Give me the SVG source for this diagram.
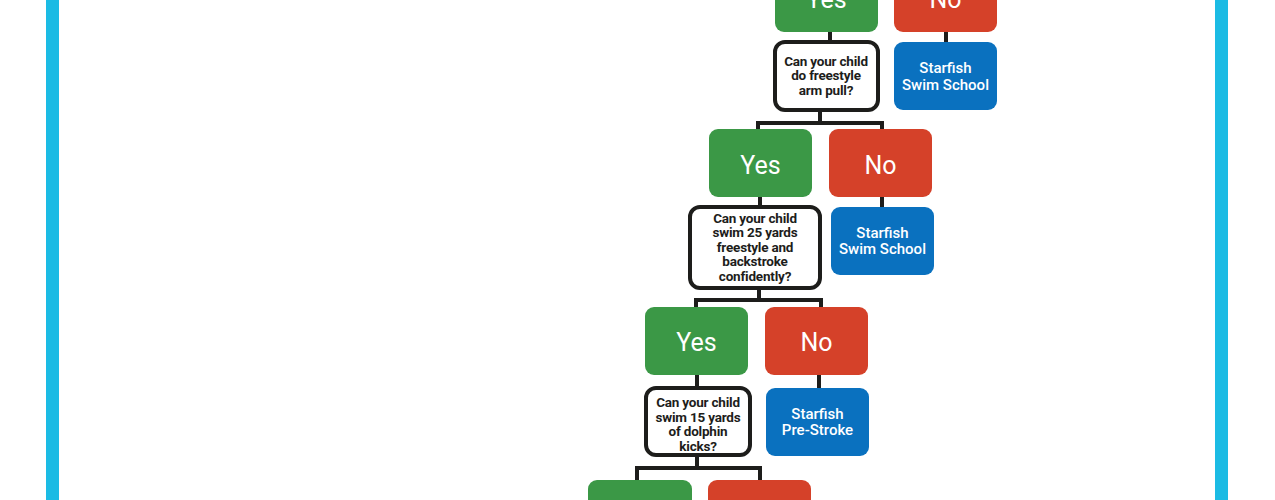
<svg xmlns="http://www.w3.org/2000/svg" width="1275" height="500" viewBox="0 0 1275 500">
<style>
.bg{fill:#ffffff}
.bar{fill:#1bbbe4}
.yes{fill:#3b9846}
.no{fill:#d54129}
.res{fill:#0a71bf}
.q{fill:#ffffff;stroke:#1d1d1b;stroke-width:4}
.conn{fill:none;stroke:#1d1d1b;stroke-width:4;stroke-linejoin:miter}
.big{font-family:Roboto,"Liberation Sans",sans-serif;font-size:25px;fill:#ffffff;text-anchor:middle}
.rt{font-family:Roboto,"Liberation Sans",sans-serif;font-size:15px;font-weight:500;fill:#ffffff;text-anchor:middle}
.qt{font-family:Roboto,"Liberation Sans",sans-serif;font-size:13.5px;font-weight:700;fill:#1d1d1b;text-anchor:middle;letter-spacing:-0.2px}
</style>
<rect class="bg" x="0" y="0" width="1275" height="500"/>
<rect class="bar" x="46" y="0" width="13" height="500"/>
<rect class="bar" x="1215" y="0" width="13" height="500"/>

<g id="connectors">
<path class="conn" d="M830 32 V42"/>
<path class="conn" d="M946 32 V44"/>
<path class="conn" d="M820 110 V123 M758 131 V123 H882 V131"/>
<path class="conn" d="M882 197 V209"/>
<path class="conn" d="M760 197 V207"/>
<path class="conn" d="M759 288 V300 M696 309 V300 H821 V309"/>
<path class="conn" d="M819 375 V390"/>
<path class="conn" d="M697 375 V388"/>
<path class="conn" d="M697 455 V468 M637 482 V468 H760 V482"/>
</g>

<g id="yes1"><rect class="yes" x="775" y="-36" width="103" height="68" rx="9"/><text class="big" x="826.5" y="8">Yes</text></g>
<g id="no1"><rect class="no" x="894" y="-36" width="103" height="68" rx="9"/><text class="big" x="945.5" y="8">No</text></g>
<g id="result1"><rect class="res" x="894" y="42" width="103" height="68" rx="9"/><text class="rt" x="945.5" y="73">Starfish</text><text class="rt" x="945.5" y="89.5">Swim School</text></g>

<g id="q1"><rect class="q" x="775" y="42" width="103" height="68" rx="10"/><text class="qt" x="826" y="65.5">Can your child</text><text class="qt" x="826" y="80">do freestyle</text><text class="qt" x="826" y="94.5">arm pull?</text></g>

<g id="yes2"><rect class="yes" x="709" y="129" width="103" height="68" rx="9"/><text class="big" x="760.5" y="173.5">Yes</text></g>
<g id="no2"><rect class="no" x="829" y="129" width="103" height="68" rx="9"/><text class="big" x="880.5" y="173.5">No</text></g>
<g id="result2"><rect class="res" x="831" y="207" width="103" height="68" rx="9"/><text class="rt" x="882.5" y="238">Starfish</text><text class="rt" x="882.5" y="254">Swim School</text></g>

<g id="q2"><rect class="q" x="690" y="207" width="130" height="81" rx="10"/><text class="qt" x="755" y="222.5">Can your child</text><text class="qt" x="755" y="237">swim 25 yards</text><text class="qt" x="755" y="251.5">freestyle and</text><text class="qt" x="755" y="266">backstroke</text><text class="qt" x="755" y="280.5">confidently?</text></g>

<g id="yes3"><rect class="yes" x="645" y="307" width="103" height="68" rx="9"/><text class="big" x="696.5" y="351">Yes</text></g>
<g id="no3"><rect class="no" x="765" y="307" width="103" height="68" rx="9"/><text class="big" x="816.5" y="351">No</text></g>
<g id="result3"><rect class="res" x="766" y="388" width="103" height="68" rx="9"/><text class="rt" x="817.5" y="418.5">Starfish</text><text class="rt" x="817.5" y="434.5">Pre-Stroke</text></g>

<g id="q3"><rect class="q" x="646" y="388" width="104" height="67" rx="10"/><text class="qt" x="698" y="407">Can your child</text><text class="qt" x="698" y="421.5">swim 15 yards</text><text class="qt" x="698" y="436">of dolphin</text><text class="qt" x="698" y="450.5">kicks?</text></g>

<g id="yes4"><rect class="yes" x="588" y="480" width="104" height="68" rx="9"/></g>
<g id="no4"><rect class="no" x="708" y="480" width="103" height="68" rx="9"/></g>
</svg>
